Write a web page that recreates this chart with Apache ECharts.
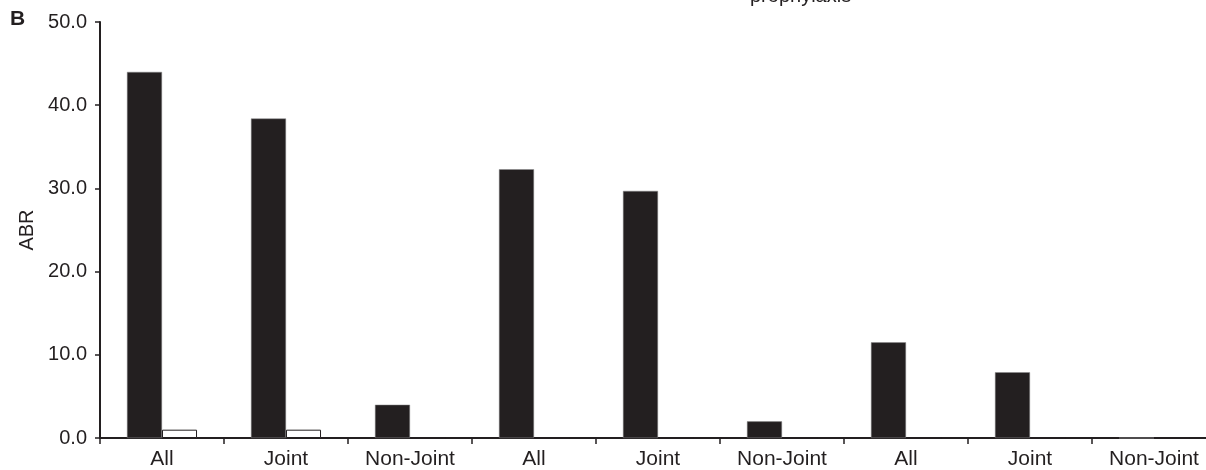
<!DOCTYPE html>
<html>
<head>
<meta charset="utf-8">
<script src="https://cdn.jsdelivr.net/npm/echarts@6/dist/echarts.min.js"></script>
<style>
html,body{margin:0;padding:0;background:#fff;overflow:hidden;width:1206px;height:470px;}
#chart{width:1216px;height:470px;}
</style>
</head>
<body>
<div id="chart"></div>
<script>
const categories = ['All', 'Joint', 'Non-Joint', 'All', 'Joint', 'Non-Joint', 'All', 'Joint', 'Non-Joint'];
const blackValues = [44.0, 38.4, 4.0, 32.3, 29.7, 2.0, 11.5, 7.9, 0];
const whiteValues = [1.0, 1.0, 0, 0, 0, 0, 0, 0, 0];
const yTicks = [0, 10, 20, 30, 40, 50];
const yAxisTitle = 'ABR';
const panelLetter = 'B';
const topText = 'prophylaxis';

const ink = '#231f20';
const font = 'Liberation Sans, Arial, Helvetica, sans-serif';

const chart = echarts.init(document.getElementById('chart'), null, {renderer: 'canvas'});
chart.setOption({
  animation: false,
  backgroundColor: '#ffffff',
  grid: {left: 100, right: 0, top: 22, bottom: 31, containLabel: false},
  xAxis: {
    type: 'category',
    data: categories,
    axisLine: {lineStyle: {color: ink, width: 2}},
    axisTick: {show: true, length: 6, lineStyle: {color: ink, width: 1.5}},
    axisLabel: {color: ink, fontSize: 21, fontFamily: font, margin: 11, interval: 0}
  },
  yAxis: {
    type: 'value',
    min: yTicks[0],
    max: yTicks[yTicks.length - 1],
    interval: 10,
    name: yAxisTitle,
    nameLocation: 'middle',
    nameGap: 63,
    nameTextStyle: {color: ink, fontSize: 20, fontFamily: font},
    axisLine: {show: true, lineStyle: {color: ink, width: 2}},
    axisTick: {show: true, length: 5, lineStyle: {color: ink, width: 1.5}},
    splitLine: {show: false},
    axisLabel: {color: ink, fontSize: 20, fontFamily: font, margin: 13,
      formatter: v => v.toFixed(1)}
  },
  series: [
    {
      type: 'bar',
      data: blackValues,
      barGap: '0%',
      barCategoryGap: '43.5%',
      itemStyle: {color: ink, borderColor: '#8a8a8a', borderWidth: 0.5}
    },
    {
      type: 'bar',
      data: whiteValues,
      itemStyle: {color: '#ffffff', borderColor: ink, borderWidth: 1}
    }
  ],
  graphic: [
    {type: 'text', left: 10, top: 9,
      style: {text: panelLetter, fill: ink, font: 'bold 21px ' + font}},
    {type: 'text', x: 750, y: -14,
      style: {text: topText, fill: ink, font: '20px ' + font, verticalAlign: 'top'}}
  ]
});
</script>
</body>
</html>
